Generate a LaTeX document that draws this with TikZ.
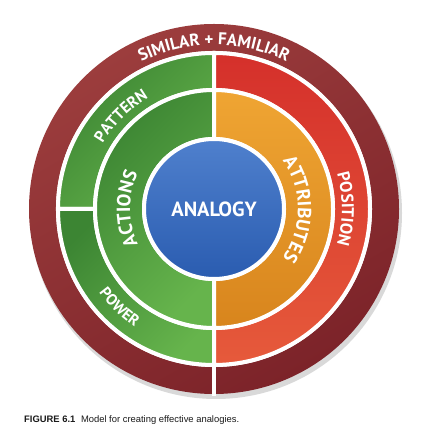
\documentclass[tikz,border=0pt]{standalone}
\usepackage{fontspec}
\setmainfont{Liberation Sans}
\newfontfamily\ringfont{PT Sans}
\usetikzlibrary{decorations.text}
\definecolor{maroontop}{HTML}{9C3D3D}
\definecolor{maroonbot}{HTML}{7C2329}
\definecolor{greendark}{HTML}{3C8533}
\definecolor{greenlight}{HTML}{66B44C}
\definecolor{redtop}{HTML}{D5302B}
\definecolor{redbot}{HTML}{E65A3B}
\definecolor{orangetop}{HTML}{EFA533}
\definecolor{orangebot}{HTML}{D8851D}
\definecolor{bluetop}{HTML}{4F80CD}
\definecolor{bluebot}{HTML}{2A5CB0}
\definecolor{captiontext}{HTML}{1A1A1A}
\tikzset{
	% setor com borda branca
	segment/.style={
		draw=white,
		line width=4pt
	}, %
	% texto sobre arco
	arclabel/.style 2 args={
		decorate,
		decoration={text along path, text align=center, text color=white,
			text={|\ringfont\bfseries\fontsize{#1}{#1}\selectfont|#2}}
	} %
}

\begin{document}
\begin{tikzpicture}[x=1pt, y=1pt]
	\useasboundingbox (0,0) rectangle (425,438);
	\fill[white] (0,0) rectangle (425,438);
	
	\begin{scope}[shift={(214,229)}]
		% sombra
		\fill[black, opacity=0.15] (2,-4) circle[radius=186];
		
		% anel externo
		\shade[top color=maroontop, bottom color=maroonbot, shading angle=30] (0,0) circle[radius=185];
		\fill[white] (0,0) circle[radius=158];
		\draw[white, line width=4pt] (0,-156)--(0,-187);
		
		% anel do meio
		\draw[segment, top color=greendark, bottom color=greenlight, shading angle=45]
			(90:156) arc[start angle=90, end angle=180, radius=156]
			--(180:119) arc[start angle=180, end angle=90, radius=119]--cycle;
		\draw[segment, top color=greendark, bottom color=greenlight, shading angle=45]
			(180:156) arc[start angle=180, end angle=270, radius=156]
			--(270:119) arc[start angle=270, end angle=180, radius=119]--cycle;
		\draw[segment, top color=redtop, bottom color=redbot]
			(-90:156) arc[start angle=-90, end angle=90, radius=156]
			--(90:119) arc[start angle=90, end angle=-90, radius=119]--cycle;
		
		% anel interno
		\draw[segment, top color=greendark, bottom color=greenlight, shading angle=45]
			(90:119) arc[start angle=90, end angle=270, radius=119]
			--(270:70) arc[start angle=270, end angle=90, radius=70]--cycle;
		\draw[segment, top color=orangetop, bottom color=orangebot]
			(-90:119) arc[start angle=-90, end angle=90, radius=119]
			--(90:70) arc[start angle=90, end angle=-90, radius=70]--cycle;
		
		% centro
		\draw[segment, top color=bluetop, bottom color=bluebot] (0,0) circle[radius=70];
		\node[text=white, font=\ringfont\bfseries\fontsize{20.5}{20.5}\selectfont] (analogy) at (0,0) {ANALOGY};
		
		% textos
		\path[arclabel={17}{SIMILAR + FAMILIAR}] (140:164) arc[start angle=140, end angle=40, radius=164];
		\path[arclabel={16}{PATTERN}] (175:129) arc[start angle=175, end angle=95, radius=129];
		\path[arclabel={15.5}{POWER}] (186:142) arc[start angle=186, end angle=266, radius=142];
		\path[arclabel={17}{POSITION}] (40:128) arc[start angle=40, end angle=-40, radius=128];
		\path[arclabel={19}{ACTIONS}] (230:84) arc[start angle=230, end angle=130, radius=84];
		\path[arclabel={19}{ATTRIBUTES}] (50:84) arc[start angle=50, end angle=-50, radius=84];
	\end{scope}
	
	% legenda
	\node[anchor=base west, inner sep=0pt, text=captiontext, font=\fontsize{9.4}{11}\selectfont] (caption) at (24,15)
		{\textbf{FIGURE 6.1}\hspace{0.6em}Model for creating effective analogies.};
\end{tikzpicture}
\end{document}
